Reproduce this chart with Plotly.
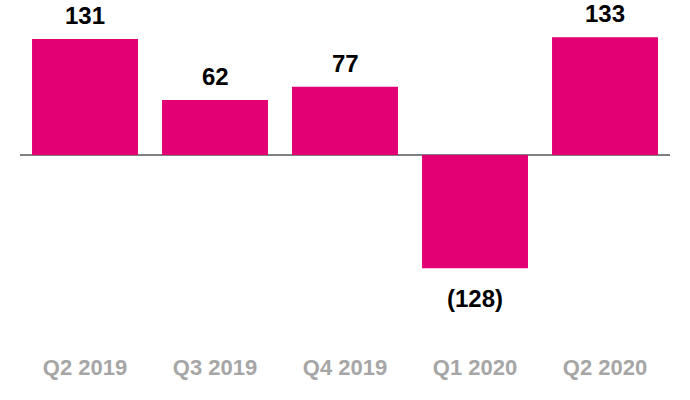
import plotly.graph_objects as go

categories = ["Q2 2019", "Q3 2019", "Q4 2019", "Q1 2020", "Q2 2020"]
values = [131, 62, 77, -128, 133]
labels = ["131", "62", "77", "(128)", "133"]

MAGENTA = "#E20074"

fig = go.Figure()
fig.add_trace(go.Bar(x=categories, y=values, marker=dict(color=MAGENTA, line=dict(width=0)),
                     hoverinfo="skip"))

for c, v, t in zip(categories, values, labels):
    fig.add_annotation(x=c, y=v, text=f"<b>{t}</b>", showarrow=False,
                       yanchor="bottom" if v >= 0 else "top",
                       yshift=8 if v >= 0 else -15,
                       font=dict(family="Liberation Sans, Arial, sans-serif", size=24, color="#000000"))

fig.update_layout(
    width=690, height=400,
    margin=dict(l=20, r=20, t=0, b=70),
    paper_bgcolor="white", plot_bgcolor="white",
    bargap=0.185,
    showlegend=False,
    xaxis=dict(showgrid=False, showline=False, ticks="", ticklabelstandoff=22,
               tickfont=dict(family="Liberation Sans, Arial, sans-serif", size=22, color="#A6A6A6"),
               tickprefix="<b>", ticksuffix="</b>"),
    yaxis=dict(range=[-197.7, 175.1], showgrid=False, showticklabels=False, showline=False,
               zeroline=True, zerolinecolor="#808080", zerolinewidth=2),
)

fig.write_html("out.html")
